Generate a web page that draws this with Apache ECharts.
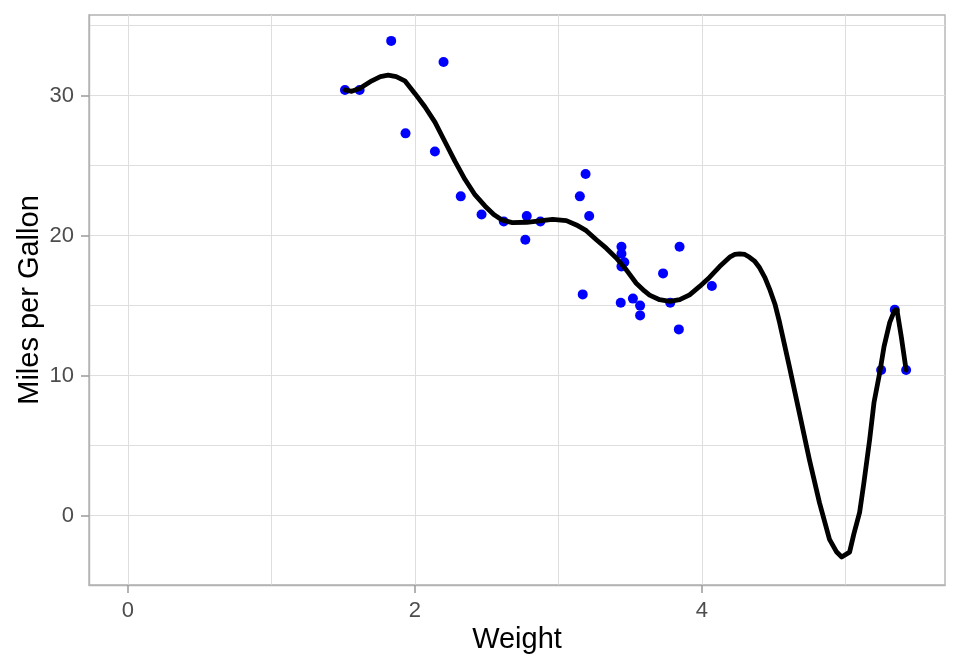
<!DOCTYPE html>
<html>
<head>
<meta charset="utf-8">
<script src="https://cdn.jsdelivr.net/npm/echarts@6/dist/echarts.min.js"></script>
<style>html,body{margin:0;padding:0;background:#fff}#c{width:960px;height:672px}</style>
</head>
<body>
<div id="c"></div>
<script>
// Data: weight (1000 lbs) and miles per gallon
const wt  = [2.620,2.875,2.320,3.215,3.440,3.460,3.570,3.190,3.150,3.440,3.440,4.070,3.730,3.780,5.250,5.424,5.345,2.200,1.615,1.835,2.465,3.520,3.435,3.840,3.845,1.935,2.140,1.513,3.170,2.770,3.570,2.780];
const mpg = [21.0,21.0,22.8,21.4,18.7,18.1,14.3,24.4,22.8,19.2,17.8,16.4,17.3,15.2,10.4,10.4,14.7,32.4,30.4,33.9,21.5,15.5,15.2,13.3,19.2,27.3,26.0,30.4,15.8,19.7,15.0,21.4];

// Fitted curve
const curveX = [1.513,1.56,1.615,1.70,1.76,1.814,1.87,1.93,2.00,2.07,2.14,2.21,2.28,2.35,2.42,2.49,2.55,2.61,2.68,2.78,2.87,2.96,3.056,3.126,3.195,3.265,3.334,3.404,3.474,3.543,3.60,3.636,3.706,3.776,3.846,3.915,3.985,4.055,4.124,4.194,4.23,4.263,4.30,4.333,4.37,4.403,4.44,4.472,4.51,4.542,4.61,4.68,4.75,4.82,4.89,4.94,4.975,5.03,5.06,5.10,5.13,5.17,5.20,5.24,5.27,5.31,5.345,5.36,5.39,5.424];
const curveY = [30.4,30.3,30.5,31.05,31.35,31.45,31.35,31.05,30.15,29.2,28.1,26.7,25.3,24.0,22.9,22.1,21.5,21.1,20.93,20.95,21.05,21.15,21.07,20.76,20.35,19.7,19.1,18.4,17.55,16.6,16.05,15.75,15.42,15.3,15.42,15.77,16.37,17.03,17.79,18.46,18.65,18.7,18.65,18.45,18.15,17.7,17.0,16.2,15.1,13.8,10.66,7.34,4.0,0.93,-1.69,-2.6,-2.95,-2.6,-1.3,0.23,2.37,5.44,8.07,10.2,12.07,13.8,14.7,14.7,12.8,10.4];

const xTicks = [0,2,4];
const xGrid  = [0,1,2,3,4,5];
const yTicks = [0,10,20,30];
const yGrid  = [0,5,10,15,20,25,30,35];

const xMin = -0.271, xMax = 5.695;
const yMin = -4.95, yMax = 35.75;

const chart = echarts.init(document.getElementById('c'), null, {renderer:'canvas'});
const FONT = 'Liberation Sans, Arial, sans-serif';
const gridColor = '#DEDEDE';
const frameColor = '#B3B3B3';
const tickColor = '#9A9A9A';

chart.setOption({
  animation:false,
  backgroundColor:'#ffffff',
  grid:{left:89, top:15, right:15, bottom:87, show:true, borderColor:frameColor, borderWidth:1.4, backgroundColor:'transparent', containLabel:false},
  xAxis:[
    {type:'value', position:'top', min:xMin, max:xMax, axisLine:{show:false, onZero:false}, axisLabel:{show:false, customValues:xGrid},
     axisTick:{show:false, customValues:xGrid}, splitLine:{show:true, lineStyle:{color:gridColor, width:1}}},
    {type:'value', position:'bottom', min:xMin, max:xMax, name:'Weight', nameLocation:'middle', nameGap:40, nameMoveOverlap:false,
     nameTextStyle:{fontFamily:FONT, fontSize:29, color:'#000'},
     axisLine:{show:true, onZero:false, lineStyle:{color:frameColor, width:1.4}}, splitLine:{show:false},
     axisTick:{show:true, inside:false, length:8, interval:0, customValues:xTicks, lineStyle:{color:tickColor, width:1.5, opacity:1}},
     axisLabel:{show:true, customValues:xTicks, margin:15, fontFamily:FONT, fontSize:22, color:'#4D4D4D'}}
  ],
  yAxis:[
    {type:'value', position:'right', min:yMin, max:yMax, axisLine:{show:false, onZero:false}, axisLabel:{show:false, customValues:yGrid},
     axisTick:{show:false, customValues:yGrid}, splitLine:{show:true, lineStyle:{color:gridColor, width:1}}},
    {type:'value', position:'left', min:yMin, max:yMax, name:'Miles per Gallon', nameLocation:'middle', nameGap:45, nameRotate:90, nameMoveOverlap:false,
     nameTextStyle:{fontFamily:FONT, fontSize:29, color:'#000'},
     axisLine:{show:true, onZero:false, lineStyle:{color:frameColor, width:1.4}}, splitLine:{show:false},
     axisTick:{show:true, inside:false, length:8, interval:0, customValues:yTicks, lineStyle:{color:tickColor, width:1.5, opacity:1}},
     axisLabel:{show:true, customValues:yTicks, margin:15, fontFamily:FONT, fontSize:22, color:'#4D4D4D'}}
  ],
  series:[
    {type:'scatter', xAxisIndex:1, yAxisIndex:1, symbol:'circle', symbolSize:10,
     itemStyle:{color:'#0000FF', opacity:1}, data:wt.map((x,i)=>[x,mpg[i]]), z:2},
    {type:'line', xAxisIndex:1, yAxisIndex:1, showSymbol:false, smooth:false,
     lineStyle:{color:'#000000', width:4.8, join:'round', cap:'round'}, data:curveX.map((x,i)=>[x,curveY[i]]), z:3}
  ]
});
</script>
</body>
</html>
